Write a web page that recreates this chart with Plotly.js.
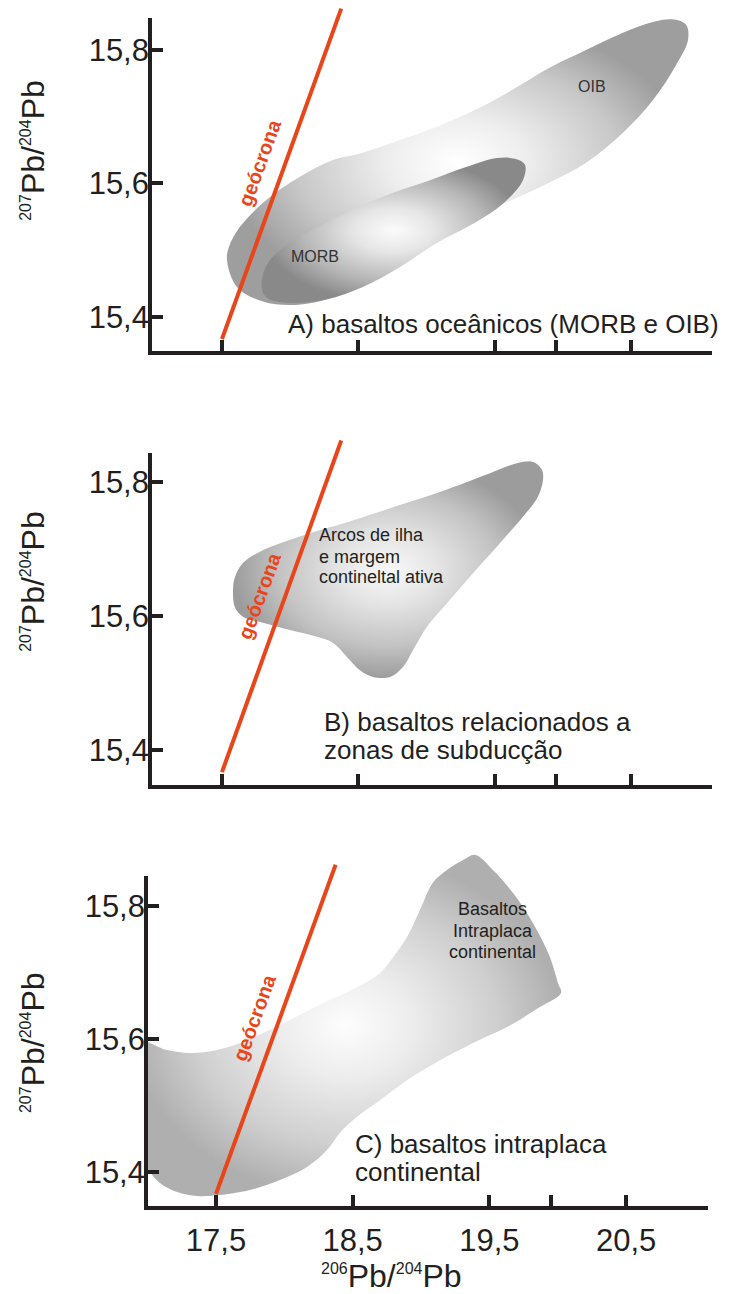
<!DOCTYPE html>
<html>
<head>
<meta charset="utf-8">
<script src="https://cdn.plot.ly/plotly-3.0.1.min.js"></script>
<style>html,body{margin:0;padding:0;background:#ffffff;}</style>
</head>
<body>
<div id="chart" style="width:729px;height:1294px;"></div>
<script>
// ---------- data ----------
const xTickVals = [17.5, 18.5, 19.5, 19.95, 20.5];
const xTickText = ['17,5', '18,5', '19,5', '', '20,5'];
const yTickVals = [15.4, 15.6, 15.8];
const yTickText = ['15,4', '15,6', '15,8'];

// geochron (4.55 Ga isochron)
const geocronaX = [17.5, 18.375];
const geocronaY = [15.367, 15.862];

// A) oceanic basalts: combined MORB + OIB field outline
const oceanicX = [17.537, 17.551, 17.632, 17.823, 18.072, 18.314, 18.534, 18.806, 19.077, 19.356, 19.628, 19.899, 20.171, 20.442, 20.662, 20.802, 20.904, 20.919, 20.824, 20.662, 20.442, 20.171, 19.899, 19.679, 19.408, 19.136, 18.865, 18.586, 18.314, 18.043, 17.801, 17.610, 17.537];
const oceanicY = [15.485, 15.505, 15.535, 15.575, 15.610, 15.635, 15.646, 15.665, 15.685, 15.710, 15.740, 15.773, 15.800, 15.826, 15.842, 15.846, 15.838, 15.815, 15.775, 15.725, 15.676, 15.631, 15.601, 15.580, 15.556, 15.526, 15.496, 15.455, 15.429, 15.418, 15.423, 15.445, 15.485];

// A) MORB field outline
const morbX = [17.793, 17.837, 17.992, 18.204, 18.483, 18.755, 19.026, 19.297, 19.518, 19.650, 19.723, 19.708, 19.569, 19.356, 19.077, 18.806, 18.534, 18.263, 17.992, 17.852, 17.801, 17.793];
const morbY = [15.455, 15.481, 15.511, 15.535, 15.563, 15.586, 15.605, 15.625, 15.638, 15.637, 15.628, 15.605, 15.571, 15.541, 15.511, 15.475, 15.445, 15.426, 15.421, 15.426, 15.436, 15.455];

// B) island arcs / active continental margin field outline
const arcX = [17.581, 17.595, 17.654, 17.779, 17.948, 18.168, 18.417, 18.733, 19.099, 19.466, 19.664, 19.782, 19.848, 19.855, 19.818, 19.708, 19.540, 19.342, 19.151, 19.004, 18.901, 18.828, 18.733, 18.608, 18.512, 18.417, 18.314, 18.197, 17.999, 17.801, 17.654, 17.595, 17.581];
const arcY = [15.639, 15.658, 15.679, 15.696, 15.710, 15.725, 15.740, 15.761, 15.785, 15.813, 15.828, 15.830, 15.818, 15.803, 15.778, 15.748, 15.709, 15.664, 15.619, 15.584, 15.549, 15.524, 15.509, 15.509, 15.519, 15.539, 15.560, 15.569, 15.579, 15.590, 15.599, 15.613, 15.639];

// C) continental intraplate basalts field outline
const intraX = [16.93, 17.142, 17.310, 17.507, 17.676, 17.844, 18.041, 18.283, 18.531, 18.700, 18.795, 18.897, 18.992, 19.087, 19.190, 19.307, 19.395, 19.526, 19.673, 19.819, 19.943, 20.002, 20.024, 19.870, 19.629, 19.380, 19.139, 18.897, 18.700, 18.531, 18.407, 18.312, 18.166, 17.968, 17.749, 17.507, 17.361, 17.215, 17.090, 17.017, 16.93, 16.93];
const intraY = [15.5955, 15.5835, 15.579, 15.5835, 15.594, 15.609, 15.6286, 15.654, 15.678, 15.699, 15.723, 15.753, 15.794, 15.835, 15.854, 15.869, 15.877, 15.854, 15.8195, 15.774, 15.723, 15.684, 15.669, 15.648, 15.618, 15.594, 15.568, 15.538, 15.508, 15.483, 15.459, 15.433, 15.4075, 15.388, 15.373, 15.365, 15.364, 15.370, 15.3835, 15.400, 15.43, 15.5955];

// ---------- style ----------
const FONT = 'Liberation Sans, Arial, Helvetica, sans-serif';
const INK = '#231f20';
const RED = '#e8461a';
const TITLE_Y = '<sup><span style="font-size:16px">207</span></sup>Pb/<sup><span style="font-size:16px">204</span></sup>Pb';
const TITLE_X = '<sup><span style="font-size:16px">206</span></sup>Pb/<sup><span style="font-size:16px">204</span></sup>Pb';

function field(x, y, xa, ya, scale) {
  return {
    type: 'scatter', mode: 'lines', x: x, y: y, xaxis: xa, yaxis: ya,
    fill: 'toself',
    fillgradient: {type: 'radial', colorscale: scale},
    line: {width: 0, shape: 'spline', smoothing: 1},
    hoverinfo: 'skip', showlegend: false
  };
}
function geo(xa, ya) {
  return {
    type: 'scatter', mode: 'lines', x: geocronaX, y: geocronaY, xaxis: xa, yaxis: ya,
    line: {color: RED, width: 4}, hoverinfo: 'skip', showlegend: false
  };
}

const scaleOuter = [[0, '#ffffff'], [0.3, '#eeeeee'], [0.7, '#c8c8c8'], [1, '#9e9e9e']];
const scaleMorb = [[0, '#fbfbfb'], [0.3, '#e6e6e6'], [0.7, '#b6b6b6'], [1, '#898989']];
const scaleArc = [[0, '#f8f8f8'], [0.3, '#e6e6e6'], [0.7, '#c3c3c3'], [1, '#9c9c9c']];
const scaleIntra = [[0, '#fdfdfd'], [0.3, '#ededed'], [0.7, '#cfcfcf'], [1, '#afafaf']];

const traces = [
  field(oceanicX, oceanicY, 'x', 'y', scaleOuter),
  field(morbX, morbY, 'x', 'y', scaleMorb),
  geo('x', 'y'),
  field(arcX, arcY, 'x2', 'y2', scaleArc),
  geo('x2', 'y2'),
  field(intraX, intraY, 'x3', 'y3', scaleIntra),
  geo('x3', 'y3')
];

const axisBase = {
  showgrid: false, zeroline: false, showline: false,
  ticks: 'inside', ticklen: 13, tickwidth: 4, tickcolor: INK,
  tickfont: {family: FONT, size: 31, color: INK},
  fixedrange: true
};
function xAx(domain, range, anchor, labels) {
  return Object.assign({}, axisBase, {
    domain: domain, range: range, anchor: anchor,
    tickmode: 'array', tickvals: xTickVals, ticktext: xTickText,
    showticklabels: labels, ticklabelstandoff: 11
  });
}
function yAx(domain, range, anchor) {
  return Object.assign({}, axisBase, {
    domain: domain, range: range, anchor: anchor,
    tickmode: 'array', tickvals: yTickVals, ticktext: yTickText
  });
}
function frame(xa, ya, topFrac) {
  return {
    type: 'path', xref: xa + ' domain', yref: ya + ' domain',
    path: 'M0,' + topFrac + ' L0,0 L1,0',
    line: {color: INK, width: 4}, layer: 'above'
  };
}
function txt(text, xref, yref, x, y, size, opts) {
  return Object.assign({
    text: text, xref: xref, yref: yref, x: x, y: y, showarrow: false,
    xanchor: 'left', yanchor: 'middle',
    font: {family: FONT, size: size, color: INK}
  }, opts || {});
}
const geoText = (xa, ya, y) => txt('geócrona', xa, ya, 17.779, y, 20, {
  xanchor: 'center', textangle: -70,
  font: {family: FONT, size: 20, color: RED, weight: 'bold'}
});

const layout = {
  width: 729, height: 1294,
  margin: {l: 0, r: 0, t: 0, b: 0, pad: 0},
  paper_bgcolor: '#ffffff', plot_bgcolor: 'rgba(0,0,0,0)',
  showlegend: false,
  xaxis: xAx([0.20576, 0.97668], [16.972, 21.095], 'y', false),
  yaxis: yAx([0.72720, 0.99691], [15.346, 15.8689], 'x'),
  xaxis2: xAx([0.20576, 0.97668], [16.972, 21.095], 'y2', false),
  yaxis2: yAx([0.39181, 0.66306], [15.3448, 15.8687], 'x2'),
  xaxis3: xAx([0.20027, 0.97119], [16.988, 21.099], 'y3', true),
  yaxis3: yAx([0.06646, 0.34312], [15.3459, 15.8842], 'x3'),
  shapes: [frame('x', 'y', 0.9599), frame('x2', 'y2', 0.9516), frame('x3', 'y3', 0.9274)],
  annotations: [
    // axis titles
    txt(TITLE_Y, 'paper', 'y', 0.0453, 15.649, 32, {xanchor: 'center', textangle: -90}),
    txt(TITLE_Y, 'paper', 'y2', 0.0453, 15.651, 32, {xanchor: 'center', textangle: -90}),
    txt(TITLE_Y, 'paper', 'y3', 0.0453, 15.594, 32, {xanchor: 'center', textangle: -90}),
    txt(TITLE_X, 'x3', 'paper', 18.787, 0.0138, 32, {xanchor: 'center'}),
    // panel A
    txt('OIB', 'x', 'y', 20.215, 15.746, 16, {xanchor: 'center', font: {family: FONT, size: 16, color: '#333333'}}),
    txt('MORB', 'x', 'y', 18.182, 15.490, 16, {xanchor: 'center', font: {family: FONT, size: 16, color: '#333333'}}),
    txt('A) basaltos oceânicos (MORB e OIB)', 'x', 'y', 17.970, 15.3895, 26),
    geoText('x', 'y', 15.632),
    // panel B
    txt('Arcos de ilha', 'x2', 'y2', 18.197, 15.721, 18),
    txt('e margem', 'x2', 'y2', 18.197, 15.688, 18),
    txt('contineltal ativa', 'x2', 'y2', 18.197, 15.658, 18),
    txt('B) basaltos relacionados a', 'x2', 'y2', 18.234, 15.442, 26),
    txt('zonas de subducção', 'x2', 'y2', 18.234, 15.400, 26),
    geoText('x2', 'y2', 15.631),
    // panel C
    txt('Basaltos', 'x3', 'y3', 19.526, 15.7955, 18, {xanchor: 'center'}),
    txt('Intraplaca', 'x3', 'y3', 19.526, 15.7624, 18, {xanchor: 'center'}),
    txt('continental', 'x3', 'y3', 19.526, 15.7308, 18, {xanchor: 'center'}),
    txt('C) basaltos intraplaca', 'x3', 'y3', 18.502, 15.442, 26),
    txt('continental', 'x3', 'y3', 18.502, 15.400, 26),
    geoText('x3', 'y3', 15.632)
  ]
};

Plotly.newPlot('chart', traces, layout, {staticPlot: true, displayModeBar: false});
</script>
</body>
</html>
